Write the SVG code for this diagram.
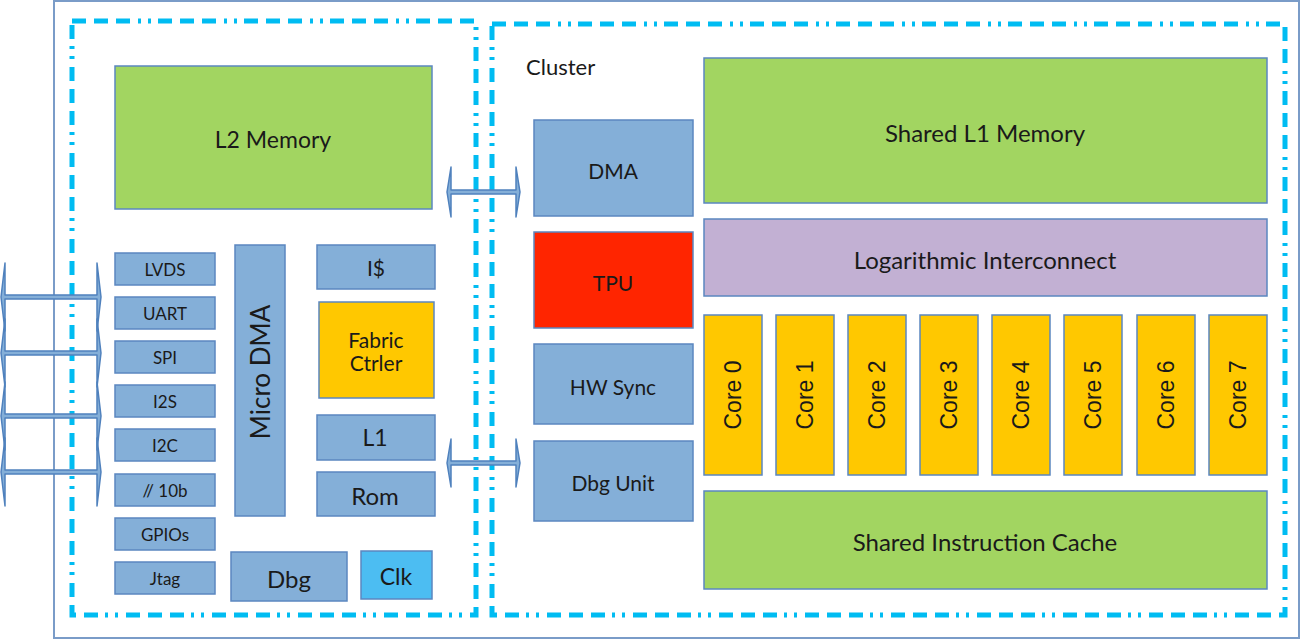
<svg xmlns="http://www.w3.org/2000/svg" width="1304" height="641" viewBox="0 0 1304 641">
<style>
  .blue{fill:#84AFD8;stroke:#5B87C0;stroke-width:1.5}
  .green{fill:#A2D561;stroke:#5B87C0;stroke-width:1.5}
  .gold{fill:#FFC800;stroke:#5B87C0;stroke-width:1.5}
  .red{fill:#FF2500;stroke:#5B87C0;stroke-width:1.5}
  .purple{fill:#C2B0D3;stroke:#5B87C0;stroke-width:1.5}
  .clk{fill:#4CBDF2;stroke:#5B87C0;stroke-width:1.5}
  .frame{fill:none;stroke:#00BCF2;stroke-width:5;stroke-dasharray:14 8 14 8 14 8 3 7 3 7}
  .arrow{fill:#84AFD8;stroke:#4F81BD;stroke-width:1.5;stroke-linejoin:round}
  text{font-family:Lato,"Noto Sans","Liberation Sans",sans-serif;fill:#1A1A1A;text-anchor:middle;dominant-baseline:central}
  .core{font-family:"Liberation Sans",Arial,sans-serif;font-size:23px}
  .t24{font-size:24px}
  .t22{font-size:23px}
  .t20{font-size:21px}
  .t16{font-size:17px}
</style>
<rect x="54" y="1" width="1245" height="637" fill="#FFFFFF" stroke="#7A9CC8" stroke-width="2"/>
<g id="frames">
  <rect class="frame" x="72" y="21" width="404" height="594"/>
  <rect class="frame" x="492" y="24" width="793" height="591"/>
</g>
<g id="connectors">
  <path class="arrow" d="M1,297 L5,263 L5,295 L97,295 L97,263 L101,297 L97,331 L97,299 L5,299 L5,331 Z"/>
  <path class="arrow" d="M1,353 L5,319 L5,351 L97,351 L97,319 L101,353 L97,387 L97,355 L5,355 L5,387 Z"/>
  <path class="arrow" d="M1,416 L5,382 L5,414 L97,414 L97,382 L101,416 L97,450 L97,418 L5,418 L5,450 Z"/>
  <path class="arrow" d="M1,472 L5,438 L5,470 L97,470 L97,438 L101,472 L97,506 L97,474 L5,474 L5,506 Z"/>
  <path class="arrow" d="M447,192 L451,167 L451,190 L516,190 L516,167 L520,192 L516,217 L516,194 L451,194 L451,217 Z"/>
  <path class="arrow" d="M447,463 L451,439 L451,461 L516,461 L516,439 L520,463 L516,487 L516,465 L451,465 L451,487 Z"/>
</g>
<g id="l2-memory"><rect class="green" x="115" y="66" width="317" height="143"/><text class="t22" x="273" y="139">L2 Memory</text></g>
<g id="lvds"><rect class="blue" x="115" y="253" width="100" height="32"/><text class="t16" x="165" y="269">LVDS</text></g>
<g id="uart"><rect class="blue" x="115" y="297" width="100" height="32"/><text class="t16" x="165" y="313">UART</text></g>
<g id="spi"><rect class="blue" x="115" y="341" width="100" height="32"/><text class="t16" x="165" y="357">SPI</text></g>
<g id="i2s"><rect class="blue" x="115" y="385" width="100" height="32"/><text class="t16" x="165" y="401">I2S</text></g>
<g id="i2c"><rect class="blue" x="115" y="429" width="100" height="32"/><text class="t16" x="165" y="445">I2C</text></g>
<g id="adc"><rect class="blue" x="115" y="474" width="100" height="32"/><text class="t16" x="165" y="490">// 10b</text></g>
<g id="gpios"><rect class="blue" x="115" y="518" width="100" height="32"/><text class="t16" x="165" y="534">GPIOs</text></g>
<g id="jtag"><rect class="blue" x="115" y="562" width="100" height="32"/><text class="t16" x="165" y="578">Jtag</text></g>
<g id="micro-dma"><rect class="blue" x="235" y="245" width="50" height="271"/><text style="font-size:26px" transform="translate(260,372) rotate(-90)" x="0" y="0">Micro DMA</text></g>
<g id="icache"><rect class="blue" x="317" y="245" width="118" height="44"/><text class="t20" x="376" y="267">I$</text></g>
<g id="fabric-ctrler"><rect class="gold" x="319" y="302" width="115" height="96"/><text class="t20" x="376" y="339">Fabric</text><text class="t20" x="376" y="362">Ctrler</text></g>
<g id="l1"><rect class="blue" x="317" y="415" width="118" height="45"/><text class="t22" x="375" y="437">L1</text></g>
<g id="rom"><rect class="blue" x="317" y="472" width="118" height="44"/><text class="t24" x="375" y="495">Rom</text></g>
<g id="dbg"><rect class="blue" x="231" y="552" width="116" height="49"/><text class="t24" x="289" y="578">Dbg</text></g>
<g id="clk"><rect class="clk" x="361" y="551" width="71" height="48"/><text class="t22" x="396" y="576">Clk</text></g>
<g id="cluster-label"><text x="526" y="66" style="text-anchor:start;font-size:22px">Cluster</text></g>
<g id="dma"><rect class="blue" x="534" y="120" width="159" height="96"/><text class="t20" x="613" y="170">DMA</text></g>
<g id="tpu"><rect class="red" x="534" y="232" width="159" height="96"/><text class="t20" x="613" y="282">TPU</text></g>
<g id="hw-sync"><rect class="blue" x="534" y="344" width="159" height="80"/><text class="t20" x="613" y="386">HW Sync</text></g>
<g id="dbg-unit"><rect class="blue" x="534" y="441" width="159" height="80"/><text class="t20" x="613" y="482">Dbg Unit</text></g>
<g id="shared-l1"><rect class="green" x="704" y="58" width="563" height="145"/><text class="t24" x="985" y="132">Shared L1 Memory</text></g>
<g id="log-interconnect"><rect class="purple" x="704" y="219" width="563" height="77"/><text class="t24" x="985" y="259">Logarithmic Interconnect</text></g>
<g id="core0"><rect class="gold" x="704" y="315" width="58" height="160"/><text class="core" transform="translate(733,395) rotate(-90)">Core 0</text></g>
<g id="core1"><rect class="gold" x="776" y="315" width="58" height="160"/><text class="core" transform="translate(805,395) rotate(-90)">Core 1</text></g>
<g id="core2"><rect class="gold" x="848" y="315" width="58" height="160"/><text class="core" transform="translate(877,395) rotate(-90)">Core 2</text></g>
<g id="core3"><rect class="gold" x="920" y="315" width="58" height="160"/><text class="core" transform="translate(949,395) rotate(-90)">Core 3</text></g>
<g id="core4"><rect class="gold" x="992" y="315" width="58" height="160"/><text class="core" transform="translate(1021,395) rotate(-90)">Core 4</text></g>
<g id="core5"><rect class="gold" x="1064" y="315" width="58" height="160"/><text class="core" transform="translate(1093,395) rotate(-90)">Core 5</text></g>
<g id="core6"><rect class="gold" x="1137" y="315" width="58" height="160"/><text class="core" transform="translate(1166,395) rotate(-90)">Core 6</text></g>
<g id="core7"><rect class="gold" x="1209" y="315" width="58" height="160"/><text class="core" transform="translate(1238,395) rotate(-90)">Core 7</text></g>
<g id="shared-icache"><rect class="green" x="704" y="491" width="563" height="98"/><text class="t24" x="985" y="541">Shared Instruction Cache</text></g>
</svg>
